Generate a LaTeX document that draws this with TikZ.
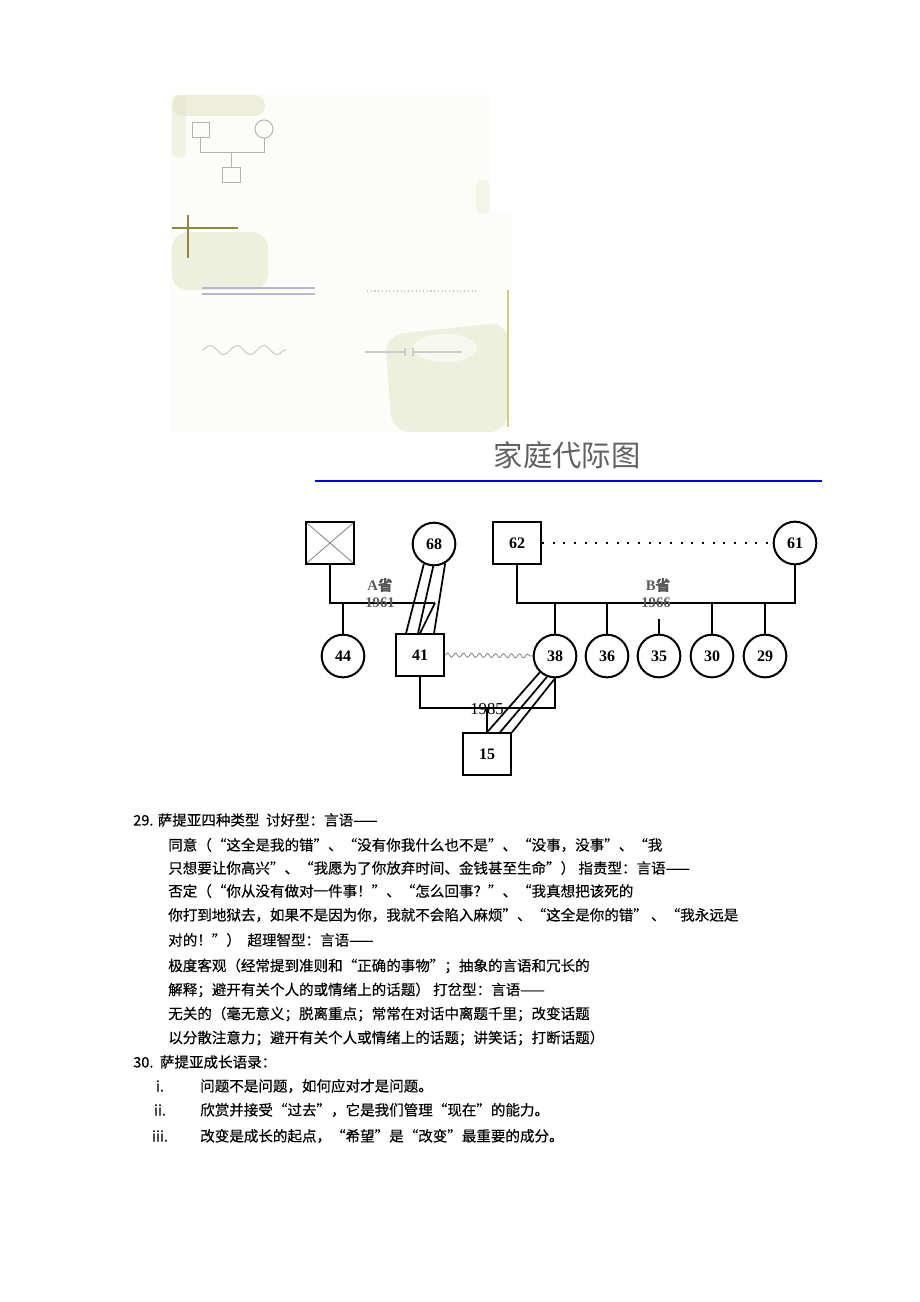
\documentclass[tikz,border=0pt]{standalone}
\usepackage{fontspec}
\setmainfont{Liberation Serif}
\newfontfamily\cjk[FakeBold=0.4]{Noto Sans CJK SC}
\newfontfamily\cjktitle{Noto Sans CJK SC}
\usetikzlibrary{positioning,calc,decorations.pathmorphing}
\definecolor{photo}{RGB}{226,229,196}
\definecolor{paper}{RGB}{252,252,249}

\begin{document}
\begin{tikzpicture}[x=0.75pt,y=-0.75pt,
  person/.style={draw,line width=1.5pt,font=\bfseries\fontsize{12}{13}\selectfont,inner sep=0pt},
  female/.style={person,circle,minimum size=32pt},
  male/.style={person,rectangle,minimum width=36pt,minimum height=31pt},
  dead/.style={male,path picture={\draw[gray,line width=0.6pt]
    (path picture bounding box.north west) -- (path picture bounding box.south east)
    (path picture bounding box.north east) -- (path picture bounding box.south west);}},
  link/.style={line width=1.3pt},
  place/.style={font=\bfseries\fontsize{11}{12}\selectfont,text=black!65,inner sep=0pt},
  txt/.style={anchor=west,inner sep=0pt,font=\cjk\fontsize{10.9}{12}\selectfont,text=black},
  faint/.style={line width=0.8pt,draw=gray!40}]
\useasboundingbox (0,0) rectangle (920,1302);

% faded picture at the top
\fill[paper] (170,95) rectangle (490,215) (170,213) rectangle (512,432);
\fill[photo,opacity=0.55,rounded corners=8pt] (172,95) rectangle (265,116);
\fill[photo,opacity=0.4,rounded corners=5pt] (172,95) rectangle (186,158);
\fill[photo,opacity=0.5,rounded corners=12pt] (172,232) rectangle (268,290);
\fill[photo,opacity=0.3,rounded corners=5pt] (476,180) rectangle (490,214);
\fill[photo,opacity=0.5,rounded corners=14pt] (385,335) -- (508,322) -- (508,432) -- (392,432) -- cycle;
\fill[paper,opacity=0.7] (445,348) ellipse (32 and 14);
\draw[gray!60,line width=0.7pt] (192,122) rectangle (209,137);
\draw[gray!60,line width=0.7pt] (264,129) circle (9);
\draw[gray!60,line width=0.7pt] (200,137) -- (200,152) -- (264,152) -- (264,138);
\draw[gray!60,line width=0.7pt] (231,152) -- (231,167);
\draw[gray!60,line width=0.7pt] (222,167) rectangle (240,182);
\draw[olive!60!gray,line width=1.5pt] (172,228) -- (238,228) (188,215) -- (188,258);
\draw[faint,draw=blue!25!gray!45] (202,288) -- (315,288) (202,294) -- (315,294);
\draw[faint,dotted] (367,291) -- (478,291);
\draw[faint,decorate,decoration={snake,amplitude=3.5pt,segment length=20pt}] (202,350) -- (286,350);
\draw[faint] (365,352) -- (405,352) (413,352) -- (462,352) (405,348) -- (405,356) (413,348) -- (413,356);
\draw[olive!40,line width=1pt] (508,290) -- (508,427);

% title
\node[font=\cjktitle\fontsize{22}{24}\selectfont,text=black!62] (title) at (567,455) {家庭代际图};
\draw[blue,line width=2.2pt] (315,481) -- (822,481);

% genogram
\node[dead] (gf) at (330,543) {};
\node[female] (gm) at (434,544) {68};
\node[male] (wf) at (517,543) {62};
\node[female] (wm) at (795,543) {61};
\node[female] (s44) at (343,656) {44};
\node[male] (h41) at (420,655) {41};
\node[female] (w38) at (555,656) {38};
\node[female] (s36) at (607,656) {36};
\node[female] (s35) at (659,656) {35};
\node[female] (s30) at (712,656) {30};
\node[female] (s29) at (765,656) {29};
\node[male] (c15) at (487,754) {15};
\coordinate (am) at (435,603);
\coordinate (bm) at (656,603);
\coordinate (cm) at (487,708);

% A family
\draw[link] (gf.south) |- (am);
\draw[link] (s44.north) -- (s44.north |- am);
\draw[link] (am) -- (h41.north);
\draw[link] (gm.243) -- ($(h41.north)+(-14,0)$);
\draw[link] (gm.268) -- ($(h41.north)+(-2,0)$);
\draw[link] (gm.300) -- ($(h41.north)+(14,0)$);

% B family
\draw[link,dash pattern=on 1.5pt off 6.5pt] (wf.east) -- (wm.west);
\draw[link] (wf.south) |- (bm) -| (wm.south);
\draw[link] (w38.north) -- (w38.north |- bm);
\draw[link] (s36.north) -- (s36.north |- bm);
\draw[link] (s35.north) -- ++(0,-15);
\draw[link] (s30.north) -- (s30.north |- bm);
\draw[link] (s29.north) -- (s29.north |- bm);

% couple and child
\draw[gray,line width=0.6pt,decorate,decoration={snake,amplitude=1.5pt,segment length=6pt}] (h41.east) -- (w38.west);
\draw[link] (h41.south) |- (cm) -| (w38.south);
\draw[link] (cm) -- (c15.north);
\draw[link] (w38.227) -- (c15.north);
\draw[link] (w38.249) -- ($(c15.north)+(13,0)$);
\draw[link] (w38.270) -- ($(c15.north)+(25,0)$);

\node[place] (aprov) at (380,585) {A{\cjk 省}};
\node[place] (ayear) at (380,603) {1961};
\node[place] (bprov) at (658,585) {B{\cjk 省}};
\node[place] (byear) at (656,603) {1966};
\node[place,font=\fontsize{12.5}{13}\selectfont,text=black] (cyear) at (487,709) {1985};

% text below
\node[txt] (t1) at (133,820) {29. 萨提亚四种类型\ \ 讨好型：言语——};
\node[txt] (t2) at (168,845) {同意（“这全是我的错”、“没有你我什么也不是”、“没事，没事”、“我};
\node[txt] (t3) at (168,868) {只想要让你高兴”、“我愿为了你放弃时间、金钱甚至生命”）\ 指责型：言语——};
\node[txt] (t4) at (168,891) {否定（“你从没有做对一件事！”、“怎么回事？”、“我真想把该死的};
\node[txt] (t5) at (168,915) {你打到地狱去，如果不是因为你，我就不会陷入麻烦”、“这全是你的错”\ 、“我永远是};
\node[txt] (t6) at (168,940) {对的！”）\ \ 超理智型：言语——};
\node[txt] (t7) at (168,966) {极度客观（经常提到准则和“正确的事物”；抽象的言语和冗长的};
\node[txt] (t8) at (168,990) {解释；避开有关个人的或情绪上的话题）\ 打岔型：言语——};
\node[txt] (t9) at (168,1014) {无关的（毫无意义；脱离重点；常常在对话中离题千里；改变话题};
\node[txt] (t10) at (168,1038) {以分散注意力；避开有关个人或情绪上的话题；讲笑话；打断话题）};
\node[txt] (t11) at (133,1062) {30.\ \ 萨提亚成长语录：};
\node[txt,anchor=center] (n1) at (160,1086) {i.};
\node[txt] (t12) at (200,1086) {问题不是问题，如何应对才是问题。};
\node[txt,anchor=center] (n2) at (160,1110) {ii.};
\node[txt] (t13) at (200,1110) {欣赏并接受“过去”，它是我们管理“现在”的能力。};
\node[txt,anchor=center] (n3) at (160,1136) {iii.};
\node[txt] (t14) at (200,1136) {改变是成长的起点，“希望”是“改变”最重要的成分。};
\end{tikzpicture}
\end{document}
